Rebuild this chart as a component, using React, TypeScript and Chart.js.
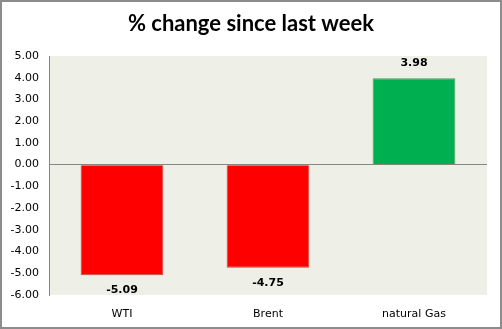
import React, { useEffect, useRef } from "react";
import { Chart, registerables } from "chart.js";

Chart.register(...registerables);

const categories = ["WTI", "Brent", "natural Gas"];
const values = [-5.09, -4.75, 3.98];
const barColors = ["#FF0000", "#FF0000", "#00B050"];
const barBorders = ["#B0504A", "#B0504A", "#4F9A55"];
const titleText = "% change since last week";
const yMin = -6;
const yMax = 5;

const FONT = "'DejaVu Sans', Verdana, sans-serif";

const decorPlugin = {
  id: "decor",
  beforeDraw(chart: any) {
    const { ctx, chartArea, width, height } = chart;
    ctx.save();
    ctx.fillStyle = "#FFFFFF";
    ctx.fillRect(0, 0, width, height);
    ctx.fillStyle = "#EEF0E8";
    ctx.fillRect(chartArea.left, chartArea.top, chartArea.right - chartArea.left, chartArea.bottom - chartArea.top);
    ctx.restore();
  },
  afterDraw(chart: any) {
    const { ctx, width, height } = chart;
    ctx.save();
    ctx.font = "bold 22px Lato, 'Open Sans', sans-serif";
    ctx.fillStyle = "#000";
    ctx.textAlign = "center";
    ctx.textBaseline = "middle";
    ctx.fillText(titleText, width / 2, 24);
    // data labels
    const meta = chart.getDatasetMeta(0);
    ctx.font = "bold 11px " + FONT;
    meta.data.forEach((bar: any, i: number) => {
      const v = values[i];
      const y = v < 0 ? bar.y + 15 : bar.y - 15;
      ctx.fillText(v.toFixed(2), bar.x, y);
    });
    ctx.strokeStyle = "#8C8C8C";
    ctx.lineWidth = 2;
    ctx.strokeRect(1, 1, width - 2, height - 2);
    ctx.restore();
  },
};

export default function App() {
  const ref = useRef<HTMLCanvasElement | null>(null);
  useEffect(() => {
    document.body.style.margin = "0";
    const chart = new Chart(ref.current as HTMLCanvasElement, {
      type: "bar",
      data: {
        labels: categories,
        datasets: [
          {
            data: values,
            backgroundColor: barColors,
            borderColor: barBorders,
            borderWidth: 1,
            barPercentage: 0.567,
            categoryPercentage: 1,
          },
        ],
      },
      options: {
        animation: false,
        responsive: false,
        maintainAspectRatio: false,
        layout: { padding: { top: 56, right: 15, bottom: 0, left: 0 } },
        plugins: { legend: { display: false }, title: { display: false }, tooltip: { enabled: false } },
        scales: {
          x: {
            grid: { display: false },
            border: { display: false },
            ticks: { color: "#000", font: { family: FONT, size: 11 }, padding: 5 },
            afterFit(scale: any) {
              scale.height = 34;
            },
          },
          y: {
            min: yMin,
            max: yMax,
            ticks: {
              stepSize: 1,
              color: "#000",
              font: { family: FONT, size: 11 },
              padding: 10,
              callback: (v: any) => Number(v).toFixed(2),
            },
            grid: {
              drawTicks: false,
              color: (c: any) => (c.tick && c.tick.value === 0 ? "#868686" : "rgba(0,0,0,0)"),
            },
            border: { display: true, color: "#868686", width: 1 },
            afterFit(scale: any) {
              scale.width = 49;
            },
          },
        },
      },
      plugins: [decorPlugin],
    });
    return () => chart.destroy();
  }, []);
  return <canvas ref={ref} width={502} height={329} style={{ display: "block" }} />;
}
